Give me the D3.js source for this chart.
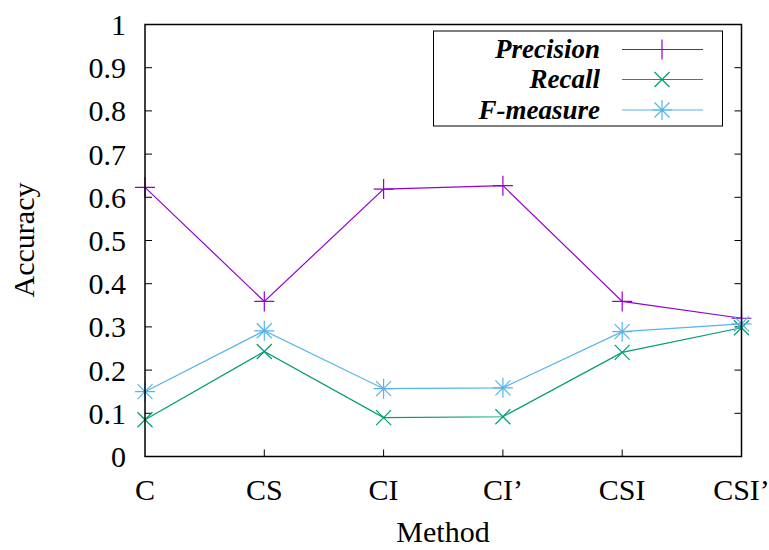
<!DOCTYPE html>
<html><head><meta charset="utf-8">
<script src="https://cdn.jsdelivr.net/npm/d3@7"></script>
<style>body{margin:0;background:#fff}svg{display:block}</style>
</head><body><svg id="c" width="769" height="550"></svg>
<script>
const categories = ["C","CS","CI","CI\u2019","CSI","CSI\u2019"];
const precision = [0.623, 0.359, 0.619, 0.627, 0.359, 0.320];
const recall = [0.085, 0.243, 0.090, 0.092, 0.241, 0.298];
const fmeasure = [0.150, 0.291, 0.157, 0.159, 0.289, 0.307];
const yTicks = [0,0.1,0.2,0.3,0.4,0.5,0.6,0.7,0.8,0.9,1];
const seriesNames = ["Precision","Recall","F-measure"];
const colors = ["#9400d3","#009e73","#56b4e9"];
const markers = ["plus","cross","star"];

const svg = d3.select("#c");
const L=145, R=741.5, T=24.5, B=456.5;
const x = d3.scaleLinear().domain([0,categories.length-1]).range([L,R]);
const y = d3.scaleLinear().domain([0,1]).range([B,T]);
const font = "'Liberation Serif', 'Times New Roman', serif";

function marker(g, type, cx, cy, color){
  const s=10;
  const p = d3.path();
  if(type==="plus"||type==="star"){p.moveTo(cx-s,cy);p.lineTo(cx+s,cy);p.moveTo(cx,cy-s);p.lineTo(cx,cy+s);}
  if(type==="cross"||type==="star"){const d=s*0.75;p.moveTo(cx-d,cy-d);p.lineTo(cx+d,cy+d);p.moveTo(cx-d,cy+d);p.lineTo(cx+d,cy-d);}
  g.append("path").attr("d",p.toString()).attr("stroke",color).attr("stroke-width",1.2).attr("fill","none");
}

// ticks
const tg = svg.append("g");
yTicks.forEach(v=>{
  if(v>0 && v<1){
    tg.append("line").attr("x1",L).attr("x2",L+7).attr("y1",y(v)).attr("y2",y(v)).attr("stroke","#000");
    tg.append("line").attr("x1",R).attr("x2",R-7).attr("y1",y(v)).attr("y2",y(v)).attr("stroke","#000");
  }
  tg.append("text").attr("x",L-19).attr("y",y(v)+10.5).attr("text-anchor","end")
    .attr("font-family",font).attr("font-size",30).text(d3.format("")(v));
});
categories.forEach((c,i)=>{
  if(i>0 && i<categories.length-1)
    tg.append("line").attr("x1",x(i)).attr("x2",x(i)).attr("y1",B).attr("y2",B-7).attr("stroke","#000");
  tg.append("text").attr("x",x(i)).attr("y",B+43).attr("text-anchor","middle")
    .attr("font-family",font).attr("font-size",30).text(c);
});

// series
const data=[precision,recall,fmeasure];
const line = d3.line().x((d,i)=>x(i)).y(d=>y(d));
const sg = svg.append("g");
data.forEach((vals,k)=>{
  sg.append("path").attr("d",line(vals)).attr("fill","none").attr("stroke",colors[k]).attr("stroke-width",1.2);
  vals.forEach((v,i)=>marker(sg,markers[k],x(i),y(v),colors[k]));
});

// frame
svg.append("rect").attr("x",L).attr("y",T).attr("width",R-L).attr("height",B-T)
  .attr("fill","none").attr("stroke","#000").attr("stroke-width",1.5);

// legend
const lg = svg.append("g");
lg.append("rect").attr("x",433.5).attr("y",31).attr("width",289).attr("height",95)
  .attr("fill","#fff").attr("stroke","#000").attr("stroke-width",1);
const rowsY=[49.5,79.5,110];
seriesNames.forEach((n,k)=>{
  lg.append("text").attr("x",600).attr("y",rowsY[k]+8.5).attr("text-anchor","end")
    .attr("font-family",font).attr("font-size",27).attr("font-weight","bold").attr("font-style","italic").text(n);
  lg.append("line").attr("x1",622).attr("x2",703).attr("y1",rowsY[k]).attr("y2",rowsY[k]).attr("stroke",colors[k]).attr("stroke-width",1.2);
  marker(lg,markers[k],662,rowsY[k],colors[k]);
});

// axis titles
svg.append("text").attr("x",443).attr("y",542).attr("text-anchor","middle")
  .attr("font-family",font).attr("font-size",30).text("Method");
svg.append("text").attr("transform","translate(34,240) rotate(-90)").attr("text-anchor","middle")
  .attr("font-family",font).attr("font-size",30).text("Accuracy");
</script></body></html>
